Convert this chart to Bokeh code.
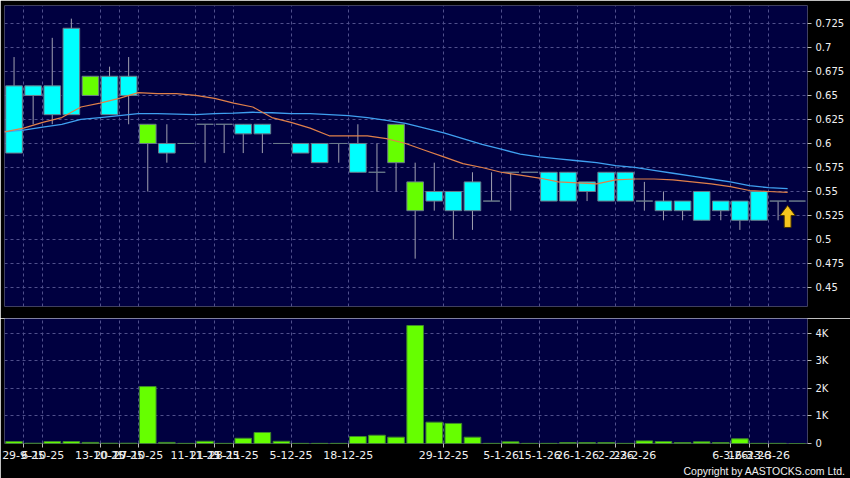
from bokeh.plotting import figure
from bokeh.layouts import column
from bokeh.models import Range1d, FixedTicker, Grid, ColumnDataSource, Title
from bokeh.embed import file_html
from bokeh.resources import INLINE

# ---------------- data ----------------
opens  = [0.66, 0.66, 0.66, 0.72, 0.65, 0.67, 0.67, 0.60, 0.60, 0.60,
          0.62, 0.62, 0.62, 0.62, 0.60, 0.60, 0.60, 0.60, 0.60, 0.57,
          0.58, 0.53, 0.55, 0.55, 0.56, 0.54, 0.57, 0.57, 0.57, 0.57,
          0.56, 0.57, 0.57, 0.54, 0.54, 0.54, 0.55, 0.54, 0.54, 0.55,
          0.54, 0.54]
highs  = [0.69, 0.66, 0.71, 0.73, 0.67, 0.68, 0.69, 0.62, 0.62, 0.60,
          0.62, 0.62, 0.62, 0.62, 0.60, 0.60, 0.60, 0.60, 0.62, 0.60,
          0.62, 0.58, 0.58, 0.55, 0.57, 0.57, 0.57, 0.57, 0.57, 0.57,
          0.56, 0.57, 0.57, 0.56, 0.55, 0.54, 0.55, 0.54, 0.54, 0.55,
          0.54, 0.54]
lows   = [0.59, 0.62, 0.62, 0.63, 0.65, 0.63, 0.62, 0.55, 0.58, 0.60,
          0.58, 0.59, 0.59, 0.59, 0.60, 0.59, 0.58, 0.58, 0.57, 0.55,
          0.55, 0.48, 0.53, 0.50, 0.51, 0.54, 0.53, 0.57, 0.54, 0.54,
          0.54, 0.54, 0.54, 0.53, 0.52, 0.52, 0.52, 0.52, 0.51, 0.52,
          0.52, 0.54]
closes = [0.59, 0.65, 0.63, 0.63, 0.67, 0.63, 0.65, 0.62, 0.59, 0.60,
          0.62, 0.62, 0.61, 0.61, 0.60, 0.59, 0.58, 0.60, 0.57, 0.57,
          0.62, 0.56, 0.54, 0.53, 0.53, 0.54, 0.57, 0.57, 0.54, 0.54,
          0.55, 0.54, 0.54, 0.54, 0.53, 0.53, 0.52, 0.53, 0.52, 0.52,
          0.54, 0.54]
volumes = [70, 10, 70, 70, 40, 10, 10, 2070, 40, 5,
           80, 5, 190, 400, 80, 5, 5, 5, 255, 300,
           230, 4290, 775, 730, 230, 5, 60, 5, 5, 35,
           35, 35, 5, 95, 70, 35, 60, 35, 170, 5,
           5, 0]
ma_short = [0.612, 0.616, 0.622, 0.627, 0.638, 0.642, 0.647, 0.653, 0.652, 0.652,
            0.650, 0.647, 0.642, 0.638, 0.627, 0.622, 0.616, 0.608, 0.608, 0.608,
            0.605, 0.600, 0.593, 0.586, 0.579, 0.575, 0.570, 0.567, 0.564, 0.560,
            0.559, 0.558, 0.562, 0.563, 0.563, 0.562, 0.560, 0.558, 0.555, 0.551,
            0.550, 0.549]
ma_long = [0.612, 0.614, 0.617, 0.620, 0.625, 0.627, 0.629, 0.631, 0.631, 0.6305,
           0.630, 0.631, 0.6316, 0.6325, 0.632, 0.631, 0.631, 0.630, 0.629, 0.627,
           0.624, 0.621, 0.616, 0.611, 0.605, 0.599, 0.594, 0.589, 0.586, 0.584,
           0.582, 0.580, 0.577, 0.575, 0.572, 0.569, 0.566, 0.563, 0.560, 0.556,
           0.554, 0.553]
date_slots = [1, 2, 5, 6, 7, 10, 11, 12, 15, 18, 23, 26, 28, 30, 32, 33, 38, 39, 40]
date_labels = ["29-9-25", "6-10-25", "13-10-25", "20-10-25", "27-10-25",
               "11-11-25", "21-11-25", "28-11-25", "5-12-25", "18-12-25",
               "29-12-25", "5-1-26", "15-1-26", "26-1-26", "2-2-26",
               "23-2-26", "6-3-26", "16-3-26", "23-3-26"]
price_ticks = [0.45, 0.475, 0.5, 0.525, 0.55, 0.575, 0.6, 0.625, 0.65, 0.675, 0.7, 0.725]
price_tick_labels = ["0.45", "0.475", "0.5", "0.525", "0.55", "0.575", "0.6",
                     "0.625", "0.65", "0.675", "0.7", "0.725"]
vol_ticks = [0, 1000, 2000, 3000, 4000]
vol_tick_labels = ["0", "1K", "2K", "3K", "4K"]

# ---------------- style ----------------
NAVY = "#000040"
GRID = "#50508c"
CYAN = "#00ffff"
GREEN = "#66ff00"
WICK = "#a0a0b0"
OUTLINE = "#6a7a8a"
TXT = "#f0f0f0"

n = len(opens)
xs = list(range(n))
src = ColumnDataSource(dict(
    x=xs, high=highs, low=lows,
    top=[max(o, c) for o, c in zip(opens, closes)],
    bottom=[min(o, c) for o, c in zip(opens, closes)],
    color=[GREEN if c > o else CYAN for o, c in zip(opens, closes)],
    vol=volumes,
))
ma_x = [i - 0.5 for i in xs]
grid_x = [s - 0.5 for s in date_slots]

x_range = Range1d(-0.5, n - 0.46)
W = 850
LB = 4
RB = 43


def style_axis(ax, size):
    ax.axis_line_color = None
    ax.major_tick_out = 4
    ax.major_tick_in = 0
    ax.minor_tick_out = 0
    ax.minor_tick_in = 0
    ax.major_tick_line_color = "#bbbbbb"
    ax.major_label_text_color = TXT
    ax.major_label_text_font = "DejaVu Sans"
    ax.major_label_text_font_size = size


p1 = figure(width=W, height=318, x_range=x_range, y_range=Range1d(0.4302, 0.7437),
            output_backend="svg", toolbar_location=None,
            x_axis_location=None, y_axis_location="right",
            background_fill_color=NAVY, border_fill_color="black",
            outline_line_color=None,
            min_border_left=LB, min_border_top=5, min_border_bottom=12, min_border_right=RB)
p1.grid.visible = False
p1.add_layout(Grid(dimension=0, ticker=FixedTicker(ticks=grid_x), grid_line_color=GRID,
                   grid_line_dash="3 3", grid_line_width=1))
p1.add_layout(Grid(dimension=1, ticker=FixedTicker(ticks=price_ticks), grid_line_color=GRID,
                   grid_line_dash="3 3", grid_line_width=1))

ya = p1.yaxis[0]
ya.ticker = FixedTicker(ticks=price_ticks)
ya.major_label_overrides = dict(zip(price_ticks, price_tick_labels))
style_axis(ya, "10px")
ya.major_label_standoff = 4

p1.segment(x0="x", y0="high", x1="x", y1="low", source=src, line_color=WICK, line_width=1)
p1.vbar(x="x", top="top", bottom="bottom", width=0.87, source=src,
        fill_color="color", line_color=OUTLINE, line_width=1)
p1.line(ma_x, ma_long, line_color="#3fa0f0", line_width=1.3)
p1.line(ma_x, ma_short, line_color="#e0804a", line_width=1.2)

# yellow signal arrow next to the latest session
ax = xs[-1] - 0.5
tip = closes[-1] - 0.0045
arrow_x = [ax, ax + 0.4, ax + 0.18, ax + 0.18, ax - 0.18, ax - 0.18, ax - 0.4]
arrow_y = [tip, tip - 0.0105, tip - 0.0105, tip - 0.023, tip - 0.023, tip - 0.0105, tip - 0.0105]
p1.patch(arrow_x, arrow_y, fill_color="#f7c51e", line_color="#4a3500", line_width=1)

# ---------------- volume ----------------
p2 = figure(width=W, height=160, x_range=x_range, y_range=Range1d(0, 4545),
            output_backend="svg", toolbar_location=None,
            x_axis_location="below", y_axis_location="right",
            background_fill_color=NAVY, border_fill_color="black",
            outline_line_color=None,
            min_border_left=LB, min_border_top=0, min_border_bottom=35, min_border_right=RB)
p2.grid.visible = False
p2.add_layout(Grid(dimension=0, ticker=FixedTicker(ticks=grid_x), grid_line_color=GRID,
                   grid_line_dash="3 3", grid_line_width=1))
p2.add_layout(Grid(dimension=1, ticker=FixedTicker(ticks=vol_ticks), grid_line_color=GRID,
                   grid_line_dash="3 3", grid_line_width=1))
p2.vbar(x="x", top="vol", bottom=0, width=0.87, source=src,
        fill_color=GREEN, line_color="#3f8a2a", line_width=1)

va = p2.yaxis[0]
va.ticker = FixedTicker(ticks=vol_ticks)
va.major_label_overrides = dict(zip(vol_ticks, vol_tick_labels))
style_axis(va, "10px")
va.major_label_standoff = 4

xa = p2.xaxis[0]
xa.ticker = FixedTicker(ticks=grid_x)
xa.major_label_overrides = dict(zip(grid_x, date_labels))
style_axis(xa, "11px")
xa.major_label_standoff = 3

p2.add_layout(Title(text="Copyright by AASTOCKS.com Ltd.", align="right",
                    text_color=TXT, text_font="Liberation Sans", text_font_size="10.5px",
                    text_font_style="normal", standoff=2, offset=-38), "below")

layout = column(p1, p2, spacing=0)
open("out.html", "w").write(file_html(layout, INLINE))
